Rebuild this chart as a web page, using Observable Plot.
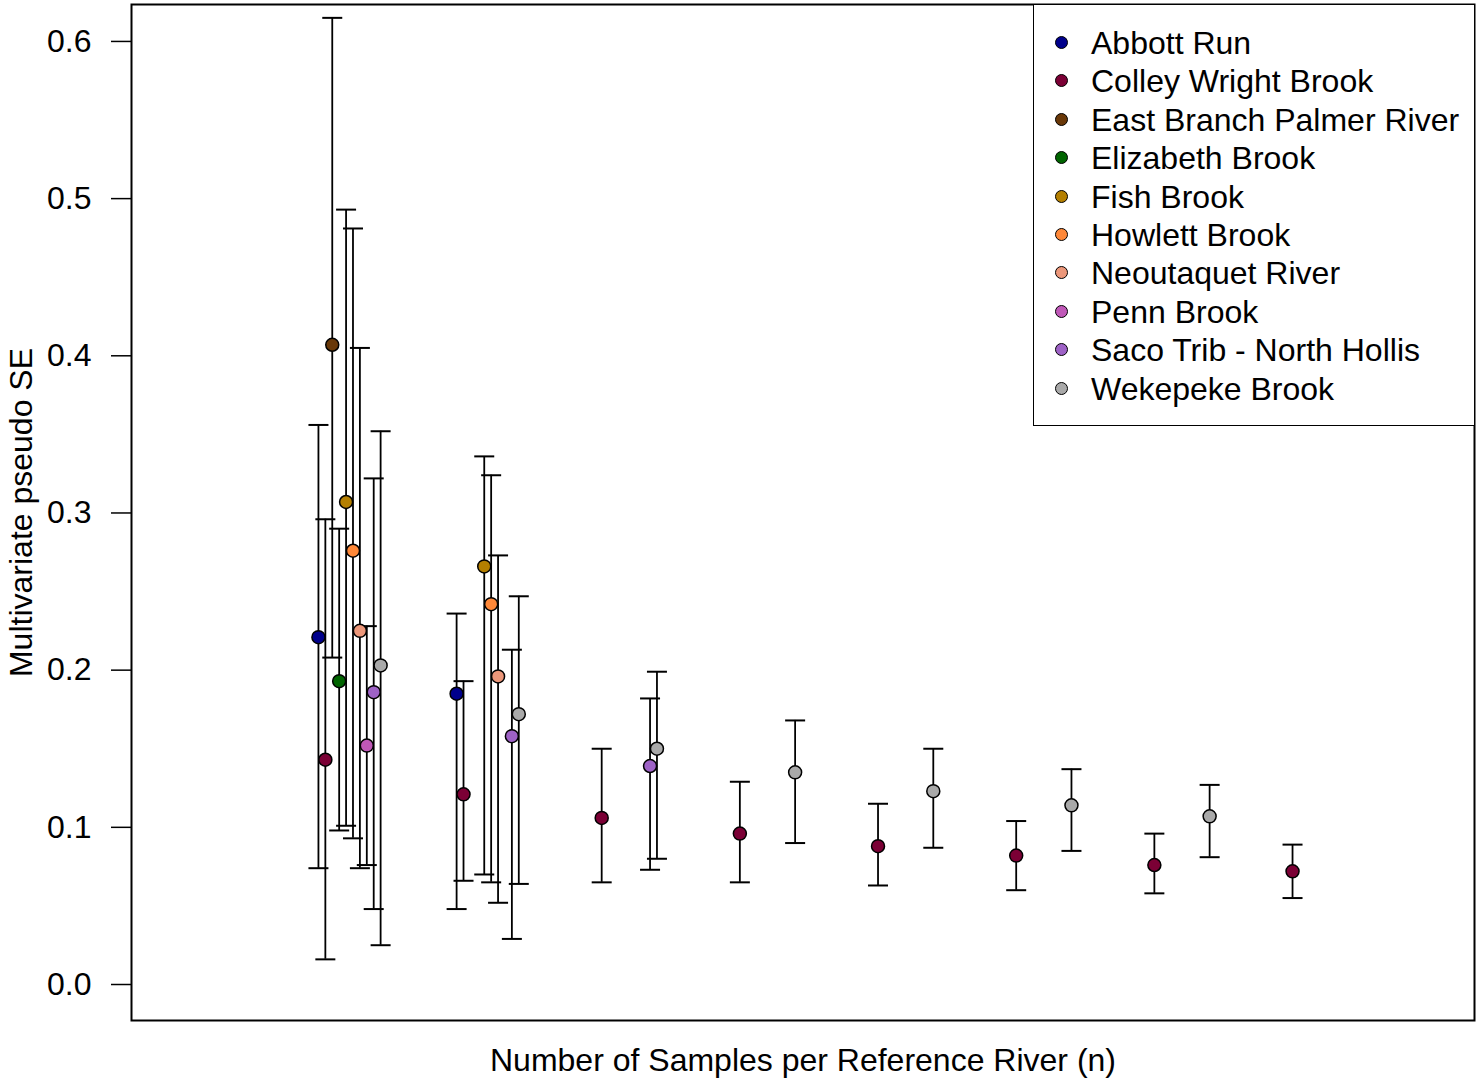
<!DOCTYPE html>
<html>
<head>
<meta charset="utf-8">
<script src="https://cdn.jsdelivr.net/npm/d3@7"></script>
<script src="https://cdn.jsdelivr.net/npm/@observablehq/plot@0.6"></script>
<style>
  html, body { margin: 0; padding: 0; background: #fff; }
  #wrap { position: relative; width: 1476px; height: 1078px; font-family: "Liberation Sans", Arial, sans-serif; }
  #legend { position: absolute; left: 1033px; top: 4px; width: 442px; height: 422px; box-sizing: border-box;
            border: 1.5px solid #000; background: #fff; }
  .row { position: absolute; left: 0; height: 38px; line-height: 38px; font-size: 32px; color: #000; white-space: nowrap; }
  .sw { position: absolute; left: 21px; top: 12px; width: 13px; height: 13px; box-sizing: border-box; border: 1.5px solid #000; border-radius: 50%; }
  .lbl { position: absolute; left: 57px; top: 0; }
</style>
</head>
<body>
<div id="wrap"></div>
<script>
const rivers = ["Abbott Run", "Colley Wright Brook", "East Branch Palmer River", "Elizabeth Brook",
  "Fish Brook", "Howlett Brook", "Neoutaquet River", "Penn Brook", "Saco Trib - North Hollis", "Wekepeke Brook"];
const riverColors = ["#00008B", "#7B0035", "#693808", "#006400", "#B47F00",
  "#FF8838", "#EC977A", "#C058B8", "#9E62C6", "#A9A9A9"];

// observations: river index, n, mean SE, lower, upper
const obsRiver = [0,1,2,3,4,5,6,7,8,9, 0,1,4,5,6,8,9, 1,8,9, 1,9, 1,9, 1,9, 1,9, 1];
const obsN     = [2,2,2,2,2,2,2,2,2,2, 3,3,3,3,3,3,3, 4,4,4, 5,5, 6,6, 7,7, 8,8, 9];
const obsMean  = [0.221,0.143,0.407,0.193,0.307,0.276,0.225,0.152,0.186,0.203,
                  0.185,0.121,0.266,0.242,0.196,0.158,0.172,
                  0.106,0.139,0.150, 0.096,0.135, 0.088,0.123, 0.082,0.114, 0.076,0.107, 0.072];
const obsLower = [0.074,0.016,0.208,0.098,0.101,0.093,0.074,0.076,0.048,0.025,
                  0.048,0.066,0.070,0.065,0.052,0.029,0.064,
                  0.065,0.073,0.080, 0.065,0.090, 0.063,0.087, 0.060,0.085, 0.058,0.081, 0.055];
const obsUpper = [0.356,0.296,0.615,0.290,0.493,0.481,0.405,0.228,0.322,0.352,
                  0.236,0.193,0.336,0.324,0.273,0.213,0.247,
                  0.150,0.182,0.199, 0.129,0.168, 0.115,0.150, 0.104,0.137, 0.096,0.127, 0.089];
const yTicks = [0, 0.1, 0.2, 0.3, 0.4, 0.5, 0.6];

const dodge = 0.05;
const data = obsN.map((n, i) => ({
  river: rivers[obsRiver[i]],
  x: n + dodge * obsRiver[i],
  mean: obsMean[i], lo: obsLower[i], hi: obsUpper[i]
}));

const cap = { draw(ctx, size) { const w = Math.sqrt(size / Math.PI); ctx.moveTo(-w, 0); ctx.lineTo(w, 0); } };

const chart = Plot.plot({
  width: 1476, height: 1078,
  marginLeft: 131, marginRight: 2, marginTop: 4, marginBottom: 58,
  x: { domain: [0.647, 10.367] },
  y: { domain: [-0.0229, 0.6235] },
  color: { domain: rivers, range: riverColors },
  style: { fontFamily: '"Liberation Sans", Arial, sans-serif', fontSize: "32px", background: "#fff", color: "#000" },
  marks: [
    Plot.axisY({ ticks: yTicks, tickFormat: d => d.toFixed(1), tickSize: 20, tickPadding: 20, strokeWidth: 1.5,
                 label: "Multivariate pseudo SE", labelAnchor: "center", labelArrow: "none", labelOffset: 122 }),
    Plot.axisX({ ticks: [], label: "Number of Samples per Reference River (n)", labelAnchor: "center",
                 labelArrow: "none", labelOffset: 50 }),
    Plot.ruleX(data, { x: "x", y1: "lo", y2: "hi", stroke: "#000", strokeWidth: 1.8 }),
    Plot.dot(data, { x: "x", y: "lo", symbol: cap, r: 10, fill: "none", stroke: "#000", strokeWidth: 2 }),
    Plot.dot(data, { x: "x", y: "hi", symbol: cap, r: 10, fill: "none", stroke: "#000", strokeWidth: 2 }),
    Plot.dot(data, { x: "x", y: "mean", r: 6.5, fill: "river", stroke: "#000", strokeWidth: 1.5 }),
    Plot.frame({ stroke: "#000", strokeWidth: 2 })
  ]
});
const wrap = document.getElementById("wrap");
wrap.appendChild(chart);

const legend = document.createElement("div");
legend.id = "legend";
rivers.forEach((r, i) => {
  const row = document.createElement("div");
  row.className = "row";
  row.style.top = (19 + i * 38.4) + "px";
  const sw = document.createElement("span");
  sw.className = "sw";
  sw.style.background = riverColors[i];
  const lbl = document.createElement("span");
  lbl.className = "lbl";
  lbl.textContent = r;
  row.appendChild(sw); row.appendChild(lbl);
  legend.appendChild(row);
});
wrap.appendChild(legend);
</script>
</body>
</html>
